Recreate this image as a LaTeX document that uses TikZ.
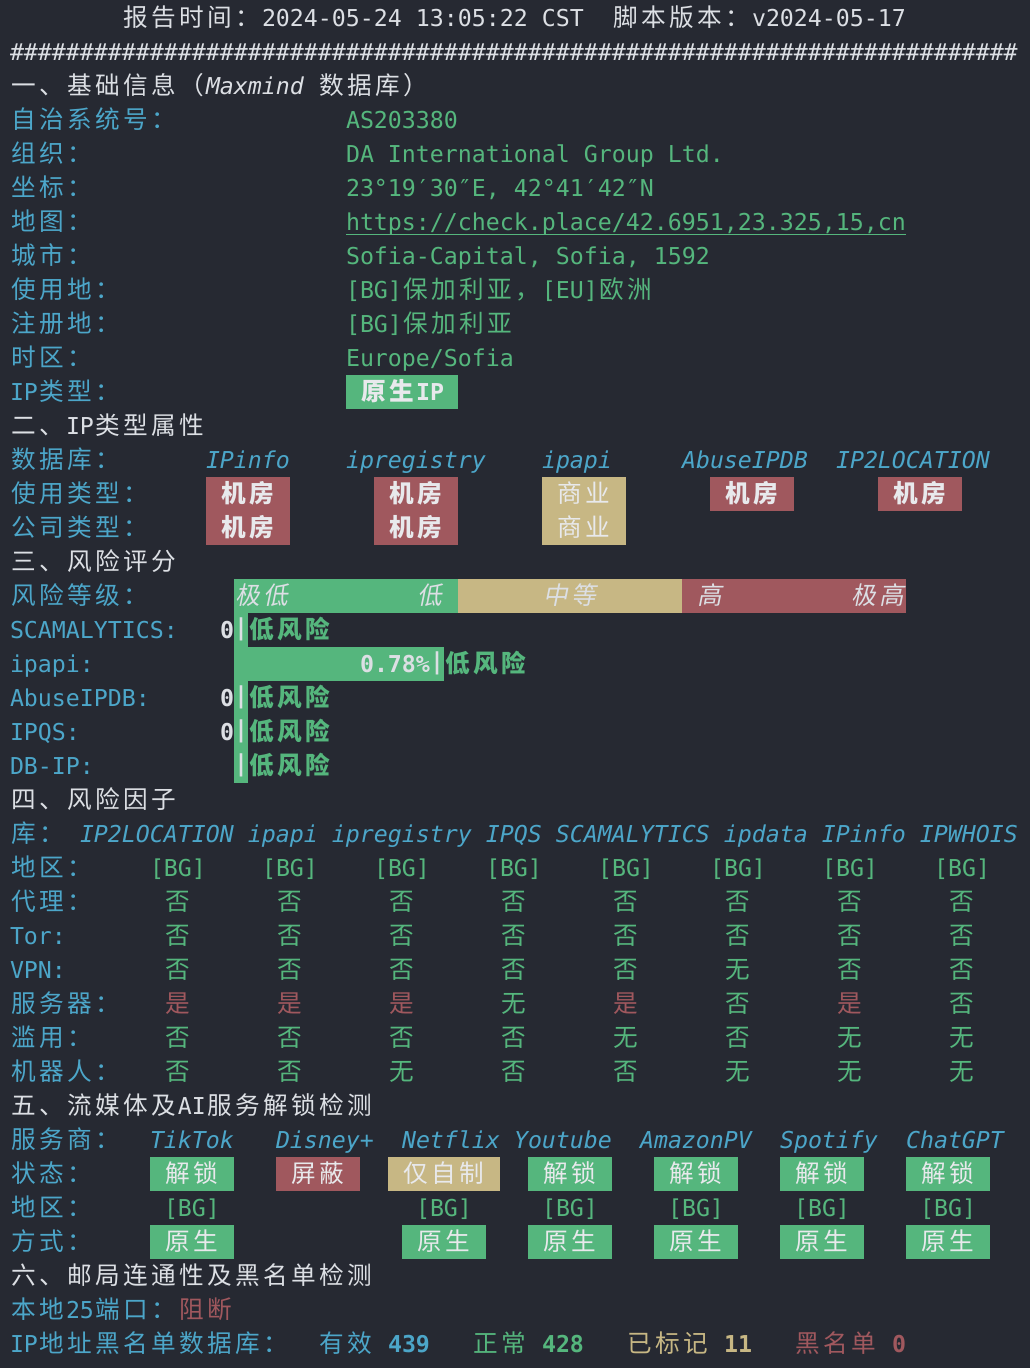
\documentclass[tikz,border=0pt]{standalone}
\usepackage{fontspec}
\setmainfont{DejaVu Sans Mono}
\newfontfamily\cjkf{Noto Sans CJK SC}[AutoFakeSlant=0.2,Scale=1.06]
\frenchspacing
\definecolor{bgc}{HTML}{262932}
\definecolor{wt}{HTML}{DCDFE4}
\definecolor{bw}{HTML}{E8E9EC}
\definecolor{bl}{HTML}{4CA6C9}
\definecolor{gn}{HTML}{55B67D}
\definecolor{rd}{HTML}{A0585E}
\definecolor{tn}{HTML}{C7B784}
\newcommand\fs{\fontsize{23.25pt}{34pt}\selectfont}
\makeatletter
\def\cj@end{cj@end@marker}
\def\cj@loop#1{\ifx#1\cj@end\else\makebox[28pt][c]{#1}\expandafter\cj@loop\fi}
\newcommand\cj[1]{{\cjkf\cj@loop#1\cj@end}}
\makeatother
\newcounter{nn}
\newcommand\tcell[4][]{\stepcounter{nn}\node[txt,#1] (n\arabic{nn}) at ({10+14*(#2)},{26+34*(#3)}) {#4};}
\newcommand\bcell[5]{\stepcounter{nn}\node[boxn,fill=#1,minimum width={14*(#3-#2)}] (n\arabic{nn}) at ({10+7*(#2+#3)},{18+34*(#4)}) {#5};}
\newcommand\tvN{\cj{否}}
\newcommand\tvW{\cj{无}}
\newcommand\tvY{\cj{是}}
\newcommand\fv[3]{\tcell[v#3]{#1}{#2}{\csname tv#3\endcsname}}
\newcommand\frow[9]{\fv{11}{#1}{#2}\fv{19}{#1}{#3}\fv{27}{#1}{#4}\fv{35}{#1}{#5}\fv{43}{#1}{#6}\fv{51}{#1}{#7}\fv{59}{#1}{#8}\fv{67}{#1}{#9}}
\newcommand\hh{\#\#\#\#\#\#\#\#}
\newcommand\vbar{\raisebox{2.5pt}{\bfseries|}}
\begin{document}
\begin{tikzpicture}[x=1pt,y=-1pt,
  txt/.style={anchor=base west,inner sep=0pt,outer sep=0pt,font=\fs},
  cw/.style={text=wt}, cb/.style={text=bl}, cg/.style={text=gn},
  cr/.style={text=rd}, ct/.style={text=tn},
  vN/.style={text=gn}, vW/.style={text=gn}, vY/.style={text=rd},
  boxn/.style={rectangle,inner sep=0pt,outer sep=0pt,minimum height=34pt,
    text height=22pt,text depth=6pt,text=bw,font=\fs}]
\useasboundingbox (0,0) rectangle (1030,1368);
\fill[bgc] (0,0) rectangle (1030,1368);
% header
\tcell[cw]{8}{0}{\cj{报告时间：}2024-05-24 13:05:22 CST}
\tcell[cw]{43}{0}{\cj{脚本版本：}v2024-05-17}
\tcell[cw]{0}{1}{\hh\hh\hh\hh\hh\hh\hh\hh\hh}
% section 1
\tcell[cw]{0}{2}{\cj{一、基础信息（}\textit{Maxmind} \cj{数据库）}}
\tcell[cb]{0}{3}{\cj{自治系统号：}}
\tcell[cg]{24}{3}{AS203380}
\tcell[cb]{0}{4}{\cj{组织：}}
\tcell[cg]{24}{4}{DA International Group Ltd.}
\tcell[cb]{0}{5}{\cj{坐标：}}
\tcell[cg]{24}{5}{23°19′30″E, 42°41′42″N}
\tcell[cb]{0}{6}{\cj{地图：}}
\node[txt,text=gn] (url) at (346,230) {https://check.place/42.6951,23.325,15,cn};
\draw[gn,line width=1.4pt] ([yshift=-4.5pt]url.base west) -- ([yshift=-4.5pt]url.base east);
\tcell[cb]{0}{7}{\cj{城市：}}
\tcell[cg]{24}{7}{Sofia-Capital, Sofia, 1592}
\tcell[cb]{0}{8}{\cj{使用地：}}
\tcell[cg]{24}{8}{[BG]\cj{保加利亚，}[EU]\cj{欧洲}}
\tcell[cb]{0}{9}{\cj{注册地：}}
\tcell[cg]{24}{9}{[BG]\cj{保加利亚}}
\tcell[cb]{0}{10}{\cj{时区：}}
\tcell[cg]{24}{10}{Europe/Sofia}
\tcell[cb]{0}{11}{IP\cj{类型：}}
\bcell{gn}{24}{32}{11}{\bfseries\cj{原生}IP}
% section 2
\tcell[cw]{0}{12}{\cj{二、}IP\cj{类型属性}}
\tcell[cb]{0}{13}{\cj{数据库：}}
\tcell[cb]{14}{13}{\itshape IPinfo}
\tcell[cb]{24}{13}{\itshape ipregistry}
\tcell[cb]{38}{13}{\itshape ipapi}
\tcell[cb]{48}{13}{\itshape AbuseIPDB}
\tcell[cb]{59}{13}{\itshape IP2LOCATION}
\tcell[cb]{0}{14}{\cj{使用类型：}}
\bcell{rd}{14}{20}{14}{\bfseries\cj{机房}}
\bcell{rd}{26}{32}{14}{\bfseries\cj{机房}}
\bcell{tn}{38}{44}{14}{\cj{商业}}
\bcell{rd}{50}{56}{14}{\bfseries\cj{机房}}
\bcell{rd}{62}{68}{14}{\bfseries\cj{机房}}
\tcell[cb]{0}{15}{\cj{公司类型：}}
\bcell{rd}{14}{20}{15}{\bfseries\cj{机房}}
\bcell{rd}{26}{32}{15}{\bfseries\cj{机房}}
\bcell{tn}{38}{44}{15}{\cj{商业}}
% section 3
\tcell[cw]{0}{16}{\cj{三、风险评分}}
\tcell[cb]{0}{17}{\cj{风险等级：}}
\fill[gn] (234,579) rectangle (458,613);
\fill[tn] (458,579) rectangle (682,613);
\fill[rd] (682,579) rectangle (906,613);
\fill[gn] (234,613) rectangle (248,783);
\fill[gn] (248,647) rectangle (444,681);
\tcell[cw]{16}{17}{\itshape\cj{极低}}
\tcell[cw]{29}{17}{\itshape\cj{低}}
\tcell[cw]{38}{17}{\itshape\cj{中等}}
\tcell[cw]{49}{17}{\itshape\cj{高}}
\tcell[cw]{60}{17}{\itshape\cj{极高}}
\tcell[cb]{0}{18}{SCAMALYTICS:}
\tcell[cw]{15}{18}{\bfseries 0}
\tcell[cw]{16}{18}{\vbar}
\tcell[cg]{17}{18}{\bfseries\cj{低风险}}
\tcell[cb]{0}{19}{ipapi:}
\tcell[cw]{25}{19}{\bfseries 0.78\%}
\tcell[cw]{30}{19}{\vbar}
\tcell[cg]{31}{19}{\bfseries\cj{低风险}}
\tcell[cb]{0}{20}{AbuseIPDB:}
\tcell[cw]{15}{20}{\bfseries 0}
\tcell[cw]{16}{20}{\vbar}
\tcell[cg]{17}{20}{\bfseries\cj{低风险}}
\tcell[cb]{0}{21}{IPQS:}
\tcell[cw]{15}{21}{\bfseries 0}
\tcell[cw]{16}{21}{\vbar}
\tcell[cg]{17}{21}{\bfseries\cj{低风险}}
\tcell[cb]{0}{22}{DB-IP:}
\tcell[cw]{16}{22}{\vbar}
\tcell[cg]{17}{22}{\bfseries\cj{低风险}}
% section 4
\tcell[cw]{0}{23}{\cj{四、风险因子}}
\tcell[cb]{0}{24}{\cj{库：}}
\tcell[cb]{5}{24}{\itshape IP2LOCATION ipapi ipregistry IPQS SCAMALYTICS ipdata IPinfo IPWHOIS}
\tcell[cb]{0}{25}{\cj{地区：}}
\foreach \c in {10,18,26,34,42,50,58,66}{\tcell[cg]{\c}{25}{[BG]}}
\tcell[cb]{0}{26}{\cj{代理：}}
\tcell[cb]{0}{27}{Tor:}
\tcell[cb]{0}{28}{VPN:}
\tcell[cb]{0}{29}{\cj{服务器：}}
\tcell[cb]{0}{30}{\cj{滥用：}}
\tcell[cb]{0}{31}{\cj{机器人：}}
\frow{26}NNNNNNNN
\frow{27}NNNNNNNN
\frow{28}NNNNNWNN
\frow{29}YYYWYNYN
\frow{30}NNNNWNWW
\frow{31}NNWNNWWW
% section 5
\tcell[cw]{0}{32}{\cj{五、流媒体及}AI\cj{服务解锁检测}}
\tcell[cb]{0}{33}{\cj{服务商：}}
\tcell[cb]{10}{33}{\itshape TikTok}
\tcell[cb]{19}{33}{\itshape Disney+}
\tcell[cb]{28}{33}{\itshape Netflix}
\tcell[cb]{36}{33}{\itshape Youtube}
\tcell[cb]{45}{33}{\itshape AmazonPV}
\tcell[cb]{55}{33}{\itshape Spotify}
\tcell[cb]{64}{33}{\itshape ChatGPT}
\tcell[cb]{0}{34}{\cj{状态：}}
\bcell{gn}{10}{16}{34}{\cj{解锁}}
\bcell{rd}{19}{25}{34}{\cj{屏蔽}}
\bcell{tn}{27}{35}{34}{\cj{仅自制}}
\bcell{gn}{37}{43}{34}{\cj{解锁}}
\bcell{gn}{46}{52}{34}{\cj{解锁}}
\bcell{gn}{55}{61}{34}{\cj{解锁}}
\bcell{gn}{64}{70}{34}{\cj{解锁}}
\tcell[cb]{0}{35}{\cj{地区：}}
\foreach \c in {11,29,38,47,56,65}{\tcell[cg]{\c}{35}{[BG]}}
\tcell[cb]{0}{36}{\cj{方式：}}
\bcell{gn}{10}{16}{36}{\cj{原生}}
\bcell{gn}{28}{34}{36}{\cj{原生}}
\bcell{gn}{37}{43}{36}{\cj{原生}}
\bcell{gn}{46}{52}{36}{\cj{原生}}
\bcell{gn}{55}{61}{36}{\cj{原生}}
\bcell{gn}{64}{70}{36}{\cj{原生}}
% section 6
\tcell[cw]{0}{37}{\cj{六、邮局连通性及黑名单检测}}
\tcell[cb]{0}{38}{\cj{本地}25\cj{端口：}}
\tcell[cr]{12}{38}{\cj{阻断}}
\tcell[cb]{0}{39}{IP\cj{地址黑名单数据库：}}
\tcell[cb]{22}{39}{\cj{有效}}
\tcell[cb]{27}{39}{\bfseries 439}
\tcell[cg]{33}{39}{\cj{正常}}
\tcell[cg]{38}{39}{\bfseries 428}
\tcell[ct]{44}{39}{\cj{已标记}}
\tcell[ct]{51}{39}{\bfseries 11}
\tcell[cr]{56}{39}{\cj{黑名单}}
\tcell[cr]{63}{39}{\bfseries 0}
\end{tikzpicture}
\end{document}
